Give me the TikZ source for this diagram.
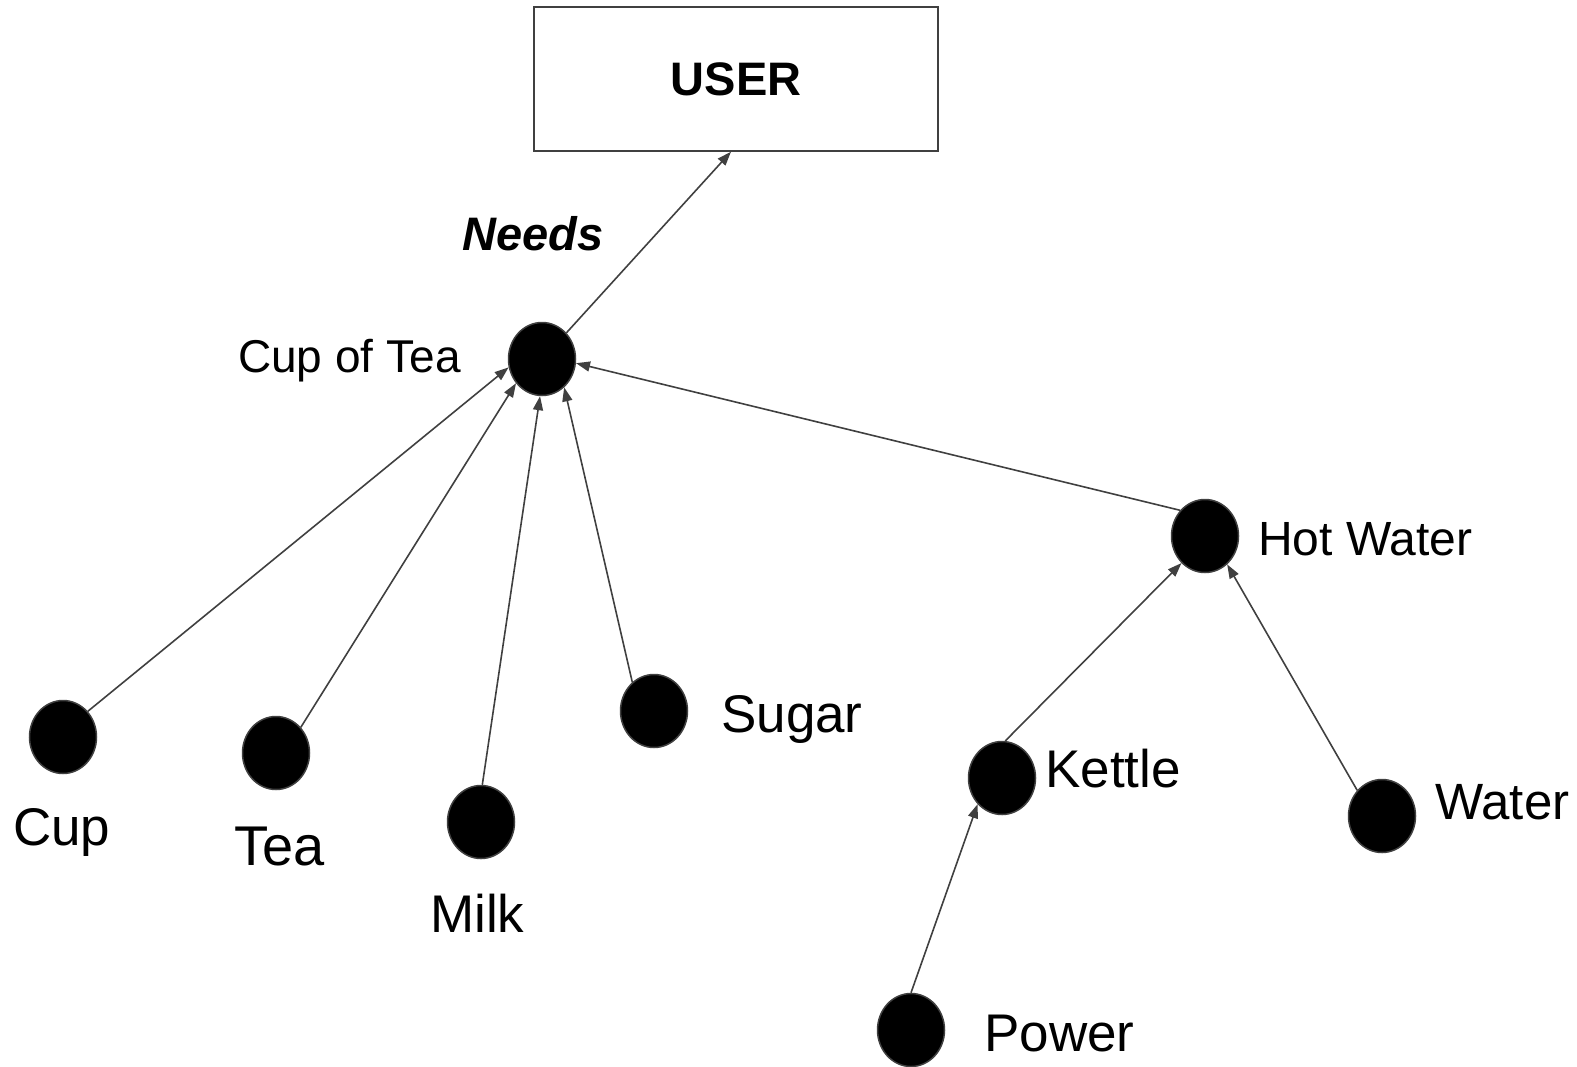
\documentclass[tikz,border=0pt]{standalone}
\usepackage{fontspec}
\setmainfont{Liberation Sans}
\usetikzlibrary{arrows.meta,shapes.geometric}
\definecolor{edgegray}{RGB}{64,64,64}
\begin{document}
\begin{tikzpicture}[x=1pt, y=-1pt,
    main/.style = {draw=edgegray, line width=1.5pt, fill=black, ellipse,
      minimum width=67pt, minimum height=73pt, inner sep=0pt},
    lbl/.style = {anchor=base west, inner sep=0pt},
    big/.style = {font=\fontsize{53}{61}\selectfont},
    arr/.style = {draw=edgegray, line width=1.6pt, -{Triangle[length=14pt,width=10pt]}}]
        \useasboundingbox (0,0) rectangle (1577,1066);
        \node[draw=edgegray, line width=1.5pt, minimum width=404pt, minimum height=144pt,
          font=\bfseries\fontsize{47}{56}\selectfont] (user) at (736,79) {USER};
        \node[main] (cot) at (542,359) {};
        \node[main] (cup) at (63,737) {};
        \node[main] (tea) at (276,753) {};
        \node[main] (milk) at (481,822) {};
        \node[main] (sugar) at (654,711) {};
        \node[main] (hotw) at (1205,536) {};
        \node[main] (kettle) at (1002,778) {};
        \node[main] (water) at (1382,816) {};
        \node[main] (power) at (911,1030) {};
        %
        \node[lbl, font=\bfseries\itshape\fontsize{47}{56}\selectfont] (needs) at (462,250) {Needs};
        \node[lbl, font=\fontsize{46}{54}\selectfont] (cotlbl) at (238,372) {Cup of Tea};
        \node[lbl, big] (cuplbl) at (13,845) {Cup};
        \node[lbl, font=\fontsize{56}{64}\selectfont] (tealbl) at (234,865) {Tea};
        \node[lbl, big] (milklbl) at (430,932) {Milk};
        \node[lbl, big] (sugarlbl) at (721,732) {Sugar};
        \node[lbl, font=\fontsize{48}{56}\selectfont] (hotwlbl) at (1258,555) {Hot Water};
        \node[lbl, big] (kettlelbl) at (1045,787) {Kettle};
        \node[lbl, font=\fontsize{51}{59}\selectfont] (waterlbl) at (1435,819) {Water};
        \node[lbl, big] (powerlbl) at (984,1051) {Power};
        %
        \draw[arr] (cot.47) -- ([xshift=-5pt]user.south);
        \draw[arr] (cup.46) -- (cot.194);
        \draw[arr] (tea.46) -- (cot.223);
        \draw[arr] (milk.88) -- (cot.267);
        \draw[arr] (sugar.127) -- (cot.308);
        \draw[arr] (hotw.134) -- (cot.353);
        \draw[arr] (kettle.85) -- (hotw.229);
        \draw[arr] (water.134) -- (hotw.308);
        \draw[arr] (power.90) -- (kettle.227);
      \end{tikzpicture}
\end{document}
